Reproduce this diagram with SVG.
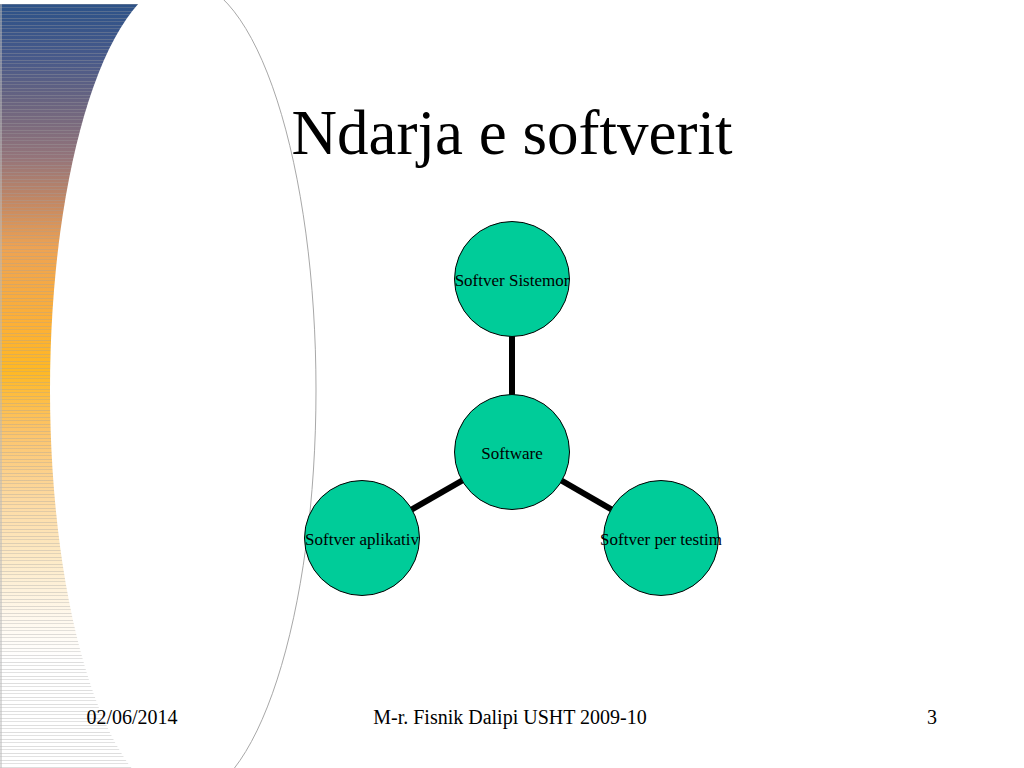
<svg xmlns="http://www.w3.org/2000/svg" width="1024" height="768" viewBox="0 0 1024 768">
<defs>
<linearGradient id="band" x1="0" y1="4" x2="0" y2="768" gradientUnits="userSpaceOnUse">
<stop offset="0" stop-color="#2c5288"/>
<stop offset="0.07" stop-color="#47598a"/>
<stop offset="0.13" stop-color="#6a6480"/>
<stop offset="0.2" stop-color="#94747a"/>
<stop offset="0.26" stop-color="#c48863"/>
<stop offset="0.32" stop-color="#eea352"/>
<stop offset="0.42" stop-color="#fdb035"/>
<stop offset="0.48" stop-color="#ffb823"/>
<stop offset="0.56" stop-color="#fcc46a"/>
<stop offset="0.65" stop-color="#fddaa2"/>
<stop offset="0.73" stop-color="#fdebc8"/>
<stop offset="0.8" stop-color="#fff8ec"/>
<stop offset="0.86" stop-color="#ffffff"/>
<stop offset="1" stop-color="#ffffff"/>
</linearGradient>
<pattern id="stripes" x="0" y="4" width="200" height="7" patternUnits="userSpaceOnUse">
<rect x="0" y="0" width="200" height="1" fill="#a0a0a0" opacity="0.35"/>
<rect x="0" y="3" width="200" height="1" fill="#a0a0a0" opacity="0.3"/>
</pattern>
<style>
.node circle{fill:#00cc99;stroke:#000;stroke-width:1}
.node text{font-size:17px;fill:#000;text-anchor:middle}
.edge{stroke:#000;stroke-width:6;fill:none}
.foot{font-size:20px;fill:#000;text-anchor:middle}
</style>
</defs>
<rect width="1024" height="768" fill="#fff"/>
<g id="background">
<rect x="0" y="4" width="183" height="764" fill="url(#band)"/>
<rect x="0" y="4" width="183" height="764" fill="url(#stripes)"/>
<line x1="1" y1="4" x2="1" y2="768" stroke="#bbbbbb" stroke-width="1.5" opacity="0.7"/>
<ellipse cx="183" cy="390" rx="133" ry="410" fill="#fff"/>
<path d="M 183 -20 A 133 410 0 0 1 183 800" fill="none" stroke="#a8a8a8" stroke-width="1"/>
</g>
<text x="512" y="154" font-family="Liberation Serif, Times New Roman, serif" font-size="63" text-anchor="middle" fill="#000">Ndarja e softverit</text>
<g id="connectors">
<line class="edge" x1="512" y1="336" x2="512" y2="395"/>
<line class="edge" x1="362" y1="538" x2="512" y2="452"/>
<line class="edge" x1="661" y1="538" x2="512" y2="452"/>
</g>
<g font-family="Liberation Serif, Times New Roman, serif">
<g id="node-sistemor" class="node">
<circle cx="512" cy="279" r="57.5"/>
<text x="512" y="286">Softver Sistemor</text>
</g>
<g id="node-software" class="node">
<circle cx="512" cy="452" r="57.5"/>
<text x="512" y="459">Software</text>
</g>
<g id="node-aplikativ" class="node">
<circle cx="362" cy="538" r="57.5"/>
<text x="362" y="545">Softver aplikativ</text>
</g>
<g id="node-testim" class="node">
<circle cx="661" cy="538" r="57.5"/>
<text x="661" y="545">Softver per testim</text>
</g>
<g id="footer">
<text class="foot" x="132" y="724">02/06/2014</text>
<text class="foot" x="510" y="724">M-r. Fisnik Dalipi USHT 2009-10</text>
<text class="foot" x="932" y="724">3</text>
</g>
</g>
</svg>
